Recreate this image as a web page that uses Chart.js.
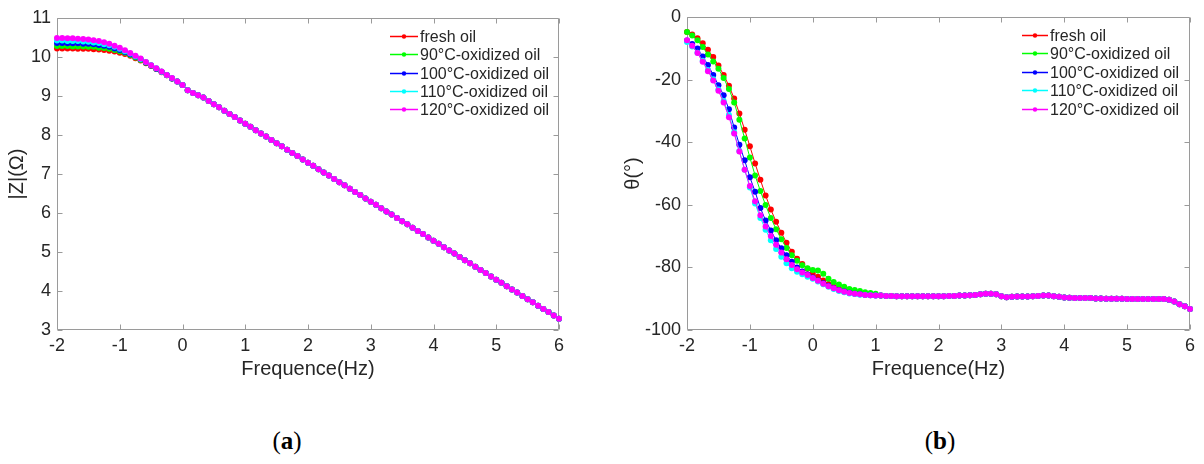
<!DOCTYPE html>
<html>
<head>
<meta charset="utf-8">
<script src="https://cdn.jsdelivr.net/npm/chart.js@4.4.1/dist/chart.umd.min.js"></script>
<style>
    body { margin: 0; background: #fff; width: 1204px; height: 464px; position: relative; overflow: hidden; }
    .box { position: absolute; top: 0; height: 400px; }
    .tag { position: absolute; font-family: "Liberation Serif", "Times New Roman", serif; font-size: 25px; color: #000; transform: translate(-50%, -50%); }
</style>
</head>
<body>
<div class="box" style="left:0;width:600px"><canvas id="magnitudeChart" width="600" height="400"></canvas></div>
<div class="box" style="left:600px;width:604px"><canvas id="phaseChart" width="604" height="400"></canvas></div>
<div class="tag" style="left:287px;top:441px">(<b>a</b>)</div>
<div class="tag" style="left:940px;top:441px">(<b>b</b>)</div>

<script>
// ========== DATA ==========

// log10 of frequency (12 points per decade)
const freqLog = [
    -2, -1.917, -1.833, -1.75, -1.667, -1.583, -1.5, -1.417, -1.333, -1.25, -1.167, -1.083,
    -1, -0.917, -0.833, -0.75, -0.667, -0.583, -0.5, -0.417, -0.333, -0.25, -0.167, -0.083,
    0, 0.083, 0.167, 0.25, 0.333, 0.417, 0.5, 0.583, 0.667, 0.75, 0.833, 0.917,
    1, 1.083, 1.167, 1.25, 1.333, 1.417, 1.5, 1.583, 1.667, 1.75, 1.833, 1.917,
    2, 2.083, 2.167, 2.25, 2.333, 2.417, 2.5, 2.583, 2.667, 2.75, 2.833, 2.917,
    3, 3.083, 3.167, 3.25, 3.333, 3.417, 3.5, 3.583, 3.667, 3.75, 3.833, 3.917,
    4, 4.083, 4.167, 4.25, 4.333, 4.417, 4.5, 4.583, 4.667, 4.75, 4.833, 4.917,
    5, 5.083, 5.167, 5.25, 5.333, 5.417, 5.5, 5.583, 5.667, 5.75, 5.833, 5.917,
    6
];

const seriesNames = ['fresh oil', '90°C-oxidized oil', '100°C-oxidized oil', '110°C-oxidized oil', '120°C-oxidized oil'];
const seriesColors = ['#ff0000', '#00ff00', '#0000ff', '#00ffff', '#ff00ff'];

// |Z| below 1 Hz (x = -2 ... -0.083), one array per oil
const zLowFresh = [10.22, 10.22, 10.22, 10.22, 10.21, 10.21, 10.21, 10.20, 10.19, 10.18, 10.16, 10.14,
                   10.11, 10.08, 10.03, 9.97, 9.91, 9.84, 9.77, 9.69, 9.61, 9.53, 9.45, 9.37];
const zLow90 = [10.28, 10.28, 10.28, 10.27, 10.27, 10.27, 10.26, 10.26, 10.24, 10.23, 10.21, 10.18,
                10.15, 10.11, 10.05, 9.99, 9.92, 9.85, 9.78, 9.70, 9.62, 9.53, 9.45, 9.37];
const zLow100 = [10.36, 10.36, 10.35, 10.35, 10.35, 10.34, 10.34, 10.33, 10.31, 10.29, 10.26, 10.22,
                 10.18, 10.13, 10.07, 10.01, 9.94, 9.86, 9.78, 9.70, 9.62, 9.54, 9.45, 9.37];
const zLow110 = [10.42, 10.42, 10.41, 10.41, 10.41, 10.40, 10.39, 10.37, 10.36, 10.33, 10.30, 10.26,
                 10.21, 10.15, 10.09, 10.02, 9.95, 9.87, 9.79, 9.71, 9.62, 9.54, 9.46, 9.37];
const zLow120 = [10.49, 10.49, 10.48, 10.48, 10.47, 10.46, 10.45, 10.43, 10.41, 10.38, 10.34, 10.29,
                 10.24, 10.17, 10.10, 10.03, 9.96, 9.87, 9.79, 9.71, 9.63, 9.54, 9.46, 9.37];
// |Z| from 1 Hz up (x = 0 ... 6), same for all oils
const zHigh = [9.28, 9.15, 9.08, 9.02, 8.96, 8.87, 8.79, 8.71, 8.62, 8.54, 8.46, 8.37,
               8.29, 8.21, 8.12, 8.04, 7.96, 7.87, 7.79, 7.71, 7.62, 7.54, 7.46, 7.37,
               7.29, 7.21, 7.12, 7.04, 6.96, 6.87, 6.79, 6.71, 6.62, 6.54, 6.46, 6.37,
               6.29, 6.21, 6.12, 6.04, 5.96, 5.87, 5.79, 5.71, 5.62, 5.54, 5.46, 5.37,
               5.29, 5.21, 5.12, 5.04, 4.96, 4.87, 4.79, 4.71, 4.62, 4.54, 4.46, 4.37,
               4.29, 4.21, 4.12, 4.04, 3.96, 3.87, 3.79, 3.71, 3.62, 3.54, 3.46, 3.37,
               3.29];

// phase up to 10 Hz (x = -2 ... 1), one array per oil
const thLowFresh = [-4.8, -5.6, -6.8, -8.4, -10.5, -12.8, -15.5, -18.5, -22.0, -26.0, -30.8, -36.0,
                    -41.3, -46.8, -52.0, -57.0, -61.5, -65.4, -68.9, -72.1, -75.0, -77.2, -78.9, -80.4,
                    -81.8, -83.0, -84.2, -85.3, -86.2, -86.8, -87.3, -87.7, -88.0, -88.3, -88.5, -88.7,
                    -88.8];
const thLow90 = [-4.8, -5.9, -7.4, -9.6, -12.0, -14.2, -16.5, -19.5, -23.0, -27.3, -32.8, -38.8,
                 -44.9, -50.6, -55.6, -60.1, -64.2, -67.8, -71.0, -73.8, -76.1, -77.9, -79.3, -80.3,
                 -80.8, -81.0, -82.0, -83.6, -84.7, -85.5, -86.2, -86.9, -87.2, -87.5, -87.9, -88.2,
                 -88.4];
const thLow100 = [-7.5, -8.6, -10.1, -12.6, -15.3, -18.5, -21.8, -25.0, -29.5, -35.3, -40.8, -45.8,
                  -51.2, -55.8, -61.0, -65.0, -68.2, -71.3, -73.9, -76.1, -78.2, -80.0, -81.3, -82.3,
                  -83.2, -84.2, -85.1, -85.9, -86.7, -87.3, -87.7, -88.1, -88.4, -88.6, -88.8, -88.9,
                  -89.0];
const thLow110 = [-8.0, -9.4, -11.4, -14.0, -16.9, -19.9, -23.2, -26.8, -31.3, -36.8, -42.8, -48.8,
                  -54.5, -59.6, -64.2, -68.0, -71.3, -74.1, -76.6, -78.7, -80.3, -81.4, -82.2, -83.0,
                  -83.6, -84.5, -85.4, -86.2, -86.9, -87.5, -87.9, -88.3, -88.5, -88.7, -88.8, -88.9,
                  -89.0];
const thLow120 = [-7.4, -9.2, -11.5, -14.3, -17.3, -20.3, -23.6, -27.3, -32.0, -37.2, -43.0, -48.8,
                  -54.0, -58.9, -63.3, -66.9, -70.0, -72.8, -75.2, -77.4, -79.2, -80.6, -81.6, -82.4,
                  -83.4, -84.3, -85.2, -86.0, -86.7, -87.3, -87.8, -88.2, -88.4, -88.6, -88.8, -88.9,
                  -89.0];
// phase above 10 Hz (x = 1.083 ... 6), same for all oils
const thHigh = [-89.0, -89.1, -89.1, -89.2, -89.2, -89.2, -89.2, -89.2, -89.2, -89.2, -89.2,
                -89.2, -89.2, -89.1, -89.1, -89.0, -89.0, -88.9, -88.8, -88.6, -88.4, -88.4, -88.6,
                -89.2, -89.5, -89.4, -89.3, -89.3, -89.3, -89.2, -89.1, -89.0, -89.0, -89.2, -89.4,
                -89.6, -89.7, -89.8, -89.8, -89.8, -89.8, -89.9, -89.9, -90.0, -90.0, -90.0, -90.0,
                -90.1, -90.1, -90.1, -90.1, -90.1, -90.1, -90.1, -90.1, -90.3, -90.9, -91.8, -92.4,
                -93.3];

const zTicks = [3, 11, 1];
const thTicks = [-100, 0, 20];
const freqTicks = [-2, 6, 1];

// ========== HELPERS ==========

const FONT = '"Liberation Sans", Arial, Helvetica, sans-serif';
const TEXT_COLOR = '#262626';
const AXIS_COLOR = '#9a9a9a';

// Box round the plot with inward ticks on all four sides
const marcoPlugin = {
    id: 'marco',
    beforeDatasetsDraw(chart) {
        const { ctx, chartArea: a, scales } = chart;
        const L = Math.round(a.left) + 0.5, R = Math.round(a.right) - 0.5;
        const T = Math.round(a.top) + 0.5, B = Math.round(a.bottom) - 0.5;
        const len = 5;
        ctx.save();
        ctx.strokeStyle = AXIS_COLOR;
        ctx.lineWidth = 1;
        ctx.beginPath();
        ctx.rect(L, T, R - L, B - T);
        scales.x.ticks.forEach(t => {
            const px = Math.round(scales.x.getPixelForValue(t.value)) + 0.5;
            ctx.moveTo(px, B); ctx.lineTo(px, B - len);
            ctx.moveTo(px, T); ctx.lineTo(px, T + len);
        });
        scales.y.ticks.forEach(t => {
            const py = Math.round(scales.y.getPixelForValue(t.value)) + 0.5;
            ctx.moveTo(L, py); ctx.lineTo(L + len, py);
            ctx.moveTo(R, py); ctx.lineTo(R - len, py);
        });
        ctx.stroke();
        ctx.restore();
    }
};

// Legend drawn as line + marker + label, without box
const leyendaPlugin = {
    id: 'leyenda',
    afterDatasetsDraw(chart, args, opts) {
        const ctx = chart.ctx;
        ctx.save();
        ctx.font = '16px ' + FONT;
        ctx.textBaseline = 'middle';
        chart.data.datasets.forEach((ds, i) => {
            const yy = Math.round(opts.top + i * opts.gap) + 0.5;
            ctx.strokeStyle = ds.borderColor;
            ctx.lineWidth = 1.5;
            ctx.beginPath();
            ctx.moveTo(opts.left, yy);
            ctx.lineTo(opts.left + opts.lineLen, yy);
            ctx.stroke();
            ctx.fillStyle = ds.borderColor;
            ctx.beginPath();
            ctx.arc(opts.left + opts.lineLen / 2, yy, 2.2, 0, Math.PI * 2);
            ctx.fill();
            ctx.fillStyle = TEXT_COLOR;
            ctx.fillText(ds.label, opts.left + opts.lineLen + 2, yy + 1);
        });
        ctx.restore();
    }
};

// Function to build the five datasets of one panel
function crearDatasets(seriesList) {
    return seriesList.map((values, i) => ({
        label: seriesNames[i],
        data: freqLog.map((f, k) => ({ x: f, y: values[k] })),
        borderColor: seriesColors[i],
        backgroundColor: seriesColors[i],
        borderWidth: 1,
        pointRadius: 3,
        pointBorderWidth: 0,
        pointHoverRadius: 3,
        showLine: true,
        tension: 0,
        clip: false,
        order: seriesList.length - i
    }));
}

// Function to create one panel
function crearGrafico(canvasId, seriesList, cfg) {
    const ctx = document.getElementById(canvasId).getContext('2d');
    return new Chart(ctx, {
        type: 'scatter',
        data: { datasets: crearDatasets(seriesList) },
        options: {
            responsive: false,
            animation: false,
            layout: { padding: cfg.padding },
            plugins: {
                legend: { display: false },
                tooltip: { enabled: false },
                leyenda: cfg.legend
            },
            scales: {
                x: {
                    type: 'linear',
                    min: freqTicks[0],
                    max: freqTicks[1],
                    ticks: {
                        stepSize: freqTicks[2],
                        color: TEXT_COLOR,
                        font: { family: FONT, size: 18 },
                        padding: 5,
                        maxRotation: 0,
                        autoSkip: false
                    },
                    grid: { display: false, drawTicks: false },
                    border: { display: false },
                    title: {
                        display: true,
                        text: 'Frequence(Hz)',
                        color: TEXT_COLOR,
                        font: { family: FONT, size: 20 },
                        padding: { top: 0, bottom: 19 }
                    },
                    afterFit: s => { s.height = 70; }
                },
                y: {
                    type: 'linear',
                    min: cfg.ticks[0],
                    max: cfg.ticks[1],
                    ticks: {
                        stepSize: cfg.ticks[2],
                        color: TEXT_COLOR,
                        font: { family: FONT, size: 18 },
                        padding: 6
                    },
                    grid: { display: false, drawTicks: false },
                    border: { display: false },
                    title: {
                        display: true,
                        text: cfg.title,
                        color: TEXT_COLOR,
                        font: { family: FONT, size: 20 },
                        padding: { top: cfg.titlePad, bottom: 0 }
                    },
                    afterFit: s => { s.width = cfg.axisWidth; }
                }
            }
        },
        plugins: [marcoPlugin, leyendaPlugin]
    });
}

// ========== PANELS ==========

crearGrafico('magnitudeChart',
    [zLowFresh.concat(zHigh), zLow90.concat(zHigh), zLow100.concat(zHigh), zLow110.concat(zHigh), zLow120.concat(zHigh)],
    {
        ticks: zTicks,
        title: '|Z|(Ω)',
        titlePad: 5,
        axisWidth: 57,
        padding: { top: 18, right: 41, left: 0, bottom: 0 },
        legend: { left: 390, top: 36, gap: 18.3, lineLen: 28 }
    });

crearGrafico('phaseChart',
    [thLowFresh.concat(thHigh), thLow90.concat(thHigh), thLow100.concat(thHigh), thLow110.concat(thHigh), thLow120.concat(thHigh)],
    {
        ticks: thTicks,
        title: 'θ(°)',
        titlePad: 21,
        axisWidth: 87,
        padding: { top: 17, right: 14, left: 0, bottom: 0 },
        legend: { left: 422, top: 34.5, gap: 18.6, lineLen: 26 }
    });
</script>
</body>
</html>
